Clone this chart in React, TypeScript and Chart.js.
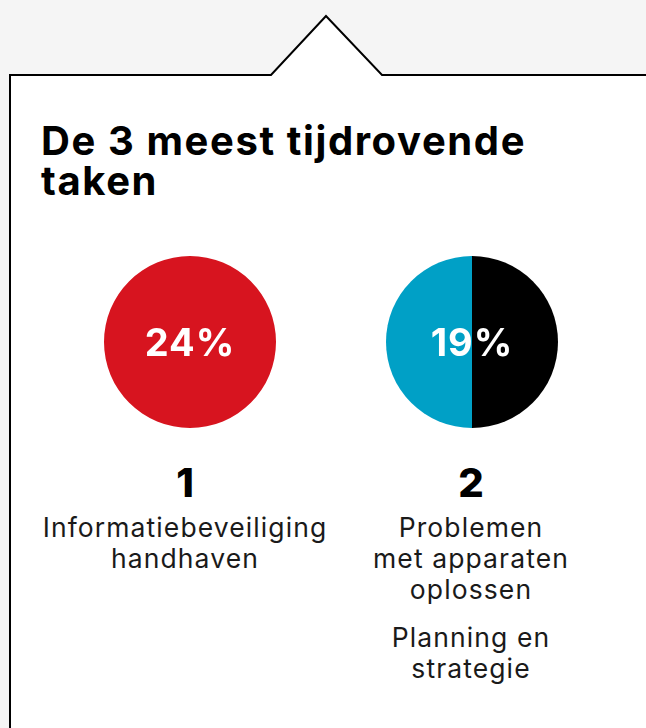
import React, { useEffect, useRef } from "react";
import { Chart, registerables } from "chart.js";

Chart.register(...registerables);

const TITLE_LINES = ["De 3 meest tijdrovende", "taken"];
const RANKS = ["1", "2"];
const PERCENT_LABELS = ["24%", "19%"];
const PIE1_LABELS = ["Informatiebeveiliging handhaven"];
const PIE1_VALUES = [24];
const PIE1_COLORS = ["#d7141f"];
const PIE2_LABELS = ["Planning en strategie", "Problemen met apparaten oplossen"];
const PIE2_VALUES = [19, 19];
const PIE2_COLORS = ["#000000", "#00a0c6"];
const TASK1_LINES = [["Informatiebeveiliging", "handhaven"]];
const TASK2_LINES = [["Problemen", "met apparaten", "oplossen"], ["Planning en", "strategie"]];

const FONT = "Inter, 'Open Sans', sans-serif";

function centerTextPlugin(text: string) {
  return {
    id: "centerText",
    afterDraw(chart: any) {
      const { ctx, chartArea } = chart;
      const cx = (chartArea.left + chartArea.right) / 2;
      const cy = (chartArea.top + chartArea.bottom) / 2;
      ctx.save();
      ctx.fillStyle = "#ffffff";
      ctx.font = `700 38px ${FONT}`;
      if ("letterSpacing" in ctx) (ctx as any).letterSpacing = "1px";
      ctx.textAlign = "center";
      ctx.textBaseline = "alphabetic";
      ctx.fillText(text, cx, cy + 14);
      ctx.restore();
    },
  };
}

function Pie({ labels, values, colors, text, left }: any) {
  const ref = useRef<HTMLCanvasElement>(null);
  useEffect(() => {
    const chart = new Chart(ref.current!, {
      type: "pie",
      data: {
        labels,
        datasets: [{ data: values, backgroundColor: colors, borderWidth: 0 }],
      },
      options: {
        responsive: false,
        animation: false,
        layout: { padding: 0 },
        plugins: { legend: { display: false }, tooltip: { enabled: false } },
      },
      plugins: [centerTextPlugin(text)],
    });
    return () => chart.destroy();
  }, []);
  return (
    <canvas
      ref={ref}
      width={172}
      height={172}
      style={{ position: "absolute", left, top: 256, width: 172, height: 172 }}
    />
  );
}

function TextBlock({ lines, cx, top }: any) {
  return (
    <div
      style={{
        position: "absolute",
        left: cx - 170,
        width: 340,
        top,
        textAlign: "center",
        fontFamily: FONT,
        fontSize: 26.5,
        letterSpacing: "1.1px",
        lineHeight: "31px",
        color: "#1a1a1a",
        fontWeight: 400,
        whiteSpace: "nowrap",
      }}
    >
      {lines.map((l: string, i: number) => (
        <div key={i}>{l}</div>
      ))}
    </div>
  );
}

export default function App() {
  return (
    <div
      style={{
        position: "fixed",
        left: 0,
        top: 0,
        width: 646,
        height: 728,
        background: "#f5f5f5",
        overflow: "hidden",
      }}
    >
      <svg width={646} height={728} style={{ position: "absolute", left: 0, top: 0 }}>
        <polygon
          points="10,75 271,75 326,16 382,75 700,75 700,800 10,800"
          fill="#ffffff"
          stroke="#000000"
          strokeWidth={2}
        />
      </svg>
      <div
        style={{
          position: "absolute",
          left: 41,
          top: 120.5,
          fontFamily: FONT,
          fontWeight: 700,
          fontSize: 40,
          letterSpacing: "1.6px",
          lineHeight: "40px",
          color: "#000",
          whiteSpace: "nowrap",
        }}
      >
        {TITLE_LINES.map((l, i) => (
          <div key={i}>{l}</div>
        ))}
      </div>
      <Pie labels={PIE1_LABELS} values={PIE1_VALUES} colors={PIE1_COLORS} text={PERCENT_LABELS[0]} left={104} />
      <Pie labels={PIE2_LABELS} values={PIE2_VALUES} colors={PIE2_COLORS} text={PERCENT_LABELS[1]} left={386} />
      {RANKS.map((r, i) => (
        <div
          key={r}
          style={{
            position: "absolute",
            left: (i === 0 ? 185 : 471) - 40,
            width: 80,
            top: 460.5,
            textAlign: "center",
            fontFamily: FONT,
            fontWeight: 800,
            fontSize: 40,
            lineHeight: "44px",
            color: "#000",
          }}
        >
          {r}
        </div>
      ))}
      <TextBlock lines={TASK1_LINES[0]} cx={185} top={512} />
      <TextBlock lines={TASK2_LINES[0]} cx={471} top={512} />
      <TextBlock lines={TASK2_LINES[1]} cx={471} top={622} />
    </div>
  );
}
